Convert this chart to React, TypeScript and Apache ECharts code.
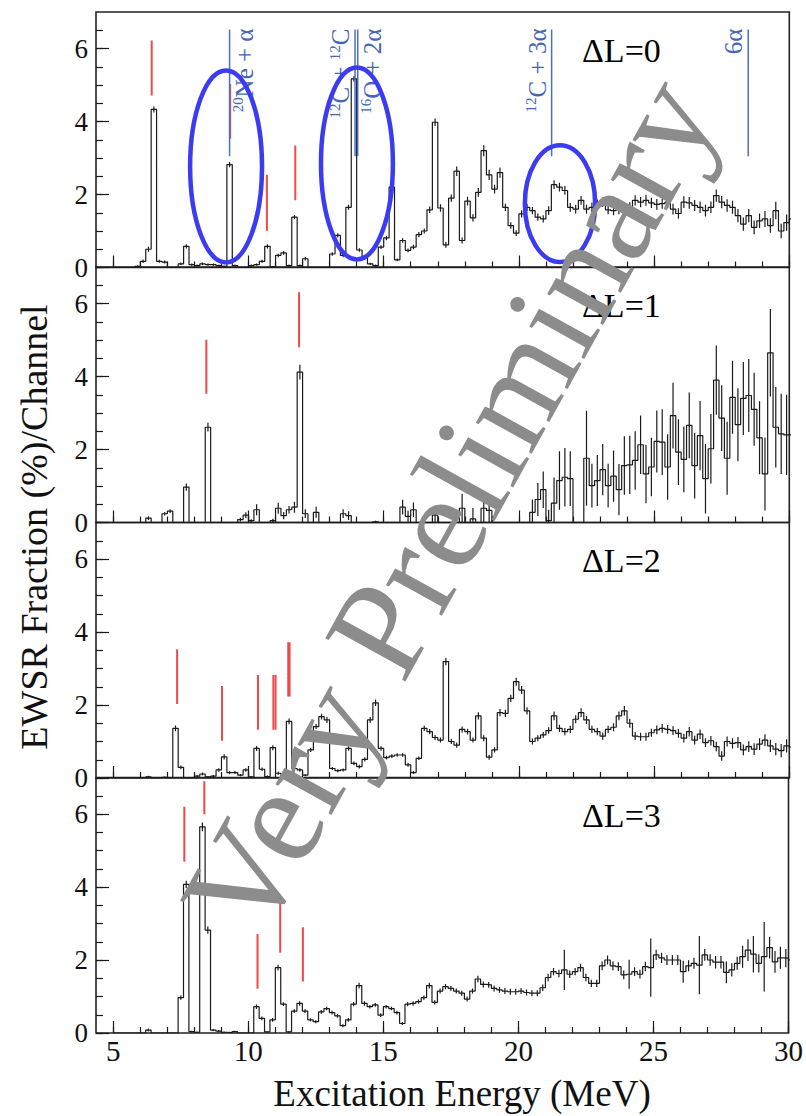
import React, { useEffect, useRef } from 'react';
import * as echarts from 'echarts';

// ---------- data ----------
const BIN_LOW_EDGE = 5.0; // lower edge of first channel (MeV)
const BIN_WIDTH = 0.2; // channel width (MeV)

const dl0Values = [
  0, 0, 0, 0, 0.03, 0.17, 0.5, 4.33, 0.17, 0.15,
  0, 0, 0.1, 0.58, 0.08, 0.05, 0.1, 0.08, 0.08, 0.05,
  0.03, 2.82, 0.05, 0, 0, 0.05, 0.08, 0.17, 0.58, 0.02,
  0.33, 0.4, 0.05, 1.38, 0.05, 0.24, 0, 0, 0, 0,
  0.37, 0.88, 0.33, 1.65, 5.17, 0.48, 0.26, 0.1, 0.05, 0.56,
  0.81, 2.2, 0.21, 0.74, 0.47, 0.56, 0.9, 1.0, 1.58, 3.98,
  1.63, 0.62, 1.9, 2.64, 0.74, 1.82, 1.36, 2.06, 3.2, 2.54,
  2.15, 2.6, 1.65, 1.15, 0.94, 1.47, 1.65, 1.56, 1.38, 1.33,
  1.56, 2.27, 2.2, 2.11, 1.65, 1.6, 1.84, 1.6, 1.65, 1.74,
  1.79, 1.58, 1.56, 1.6, 1.51, 1.65, 1.84, 1.79, 1.84, 1.77,
  1.73, 1.75, 1.79, 1.6, 1.48, 1.79, 1.77, 1.7, 1.65, 1.56,
  1.65, 1.97, 1.79, 1.7, 1.65, 1.42, 1.19, 1.42, 1.1, 1.28,
  1.33, 1.15, 1.56, 1.0, 1.23, 1.33,
];
const dl0Errors = [
  0, 0, 0, 0, 0.03, 0.05, 0.07, 0.08, 0.04, 0.04,
  0, 0, 0.04, 0.06, 0.03, 0.03, 0.04, 0.03, 0.03, 0.03,
  0.02, 0.07, 0.03, 0, 0, 0.03, 0.03, 0.04, 0.06, 0.02,
  0.05, 0.05, 0.03, 0.06, 0.03, 0.05, 0, 0, 0, 0,
  0.05, 0.06, 0.05, 0.07, 0.08, 0.05, 0.04, 0.03, 0.03, 0.05,
  0.06, 0.08, 0.04, 0.06, 0.05, 0.06, 0.07, 0.07, 0.09, 0.1,
  0.1, 0.08, 0.1, 0.13, 0.08, 0.12, 0.1, 0.12, 0.15, 0.14,
  0.12, 0.14, 0.1, 0.09, 0.08, 0.1, 0.1, 0.1, 0.1, 0.1,
  0.12, 0.12, 0.12, 0.12, 0.12, 0.12, 0.12, 0.12, 0.13, 0.12,
  0.13, 0.12, 0.13, 0.14, 0.13, 0.14, 0.14, 0.14, 0.15, 0.14,
  0.15, 0.14, 0.15, 0.15, 0.14, 0.16, 0.16, 0.15, 0.16, 0.16,
  0.16, 0.17, 0.17, 0.17, 0.18, 0.18, 0.18, 0.18, 0.19, 0.2,
  0.22, 0.2, 0.24, 0.2, 0.22, 0.25,
];

const dl1Values = [
  0, 0, 0, 0, 0, 0, 0.12, 0, 0, 0.24,
  0.31, 0, 0, 0.97, 0, 0, 0, 2.61, 0, 0,
  0, 0, 0, 0.08, 0.2, 0.05, 0.35, 0, 0, 0.05,
  0.39, 0.19, 0.35, 0.42, 4.12, 0.24, 0, 0.28, 0, 0,
  0, 0, 0.24, 0.19, 0, 0, 0, 0, 0.02, 0,
  0, 0, 0, 0.42, 0.17, 0.35, 0, 0, 0, 0.2,
  0, 0, 0, 0, 0.39, 0, 0.1, 0, 0.39, 0.33,
  0, 0, 0, 0, 0, 0, 0, 0.28, 0.63, 0.9,
  0.05, 0.53, 1.15, 1.24, 1.2, 0, 0, 1.76, 1.01, 1.15,
  1.45, 1.01, 1.27, 0.9, 1.56, 1.58, 1.7, 2.13, 1.33, 1.52,
  2.22, 2.2, 1.52, 2.93, 1.93, 1.73, 2.66, 1.56, 2.38, 1.2,
  2.02, 3.9, 2.86, 1.76, 3.43, 2.68, 3.4, 3.48, 3.1, 2.32,
  1.33, 4.65, 2.61, 2.43, 2.4, 2.4,
];
const dl1Errors = [
  0, 0, 0, 0, 0, 0, 0.05, 0, 0, 0.05,
  0.05, 0, 0, 0.1, 0, 0, 0, 0.12, 0, 0,
  0, 0, 0, 0.05, 0.08, 0.04, 0.15, 0, 0, 0.05,
  0.15, 0.1, 0.1, 0.15, 0.2, 0.12, 0, 0.15, 0, 0,
  0, 0, 0.12, 0.12, 0, 0, 0, 0, 0.03, 0,
  0, 0, 0, 0.2, 0.15, 0.2, 0, 0, 0, 0.2,
  0, 0, 0, 0, 0.4, 0, 0.3, 0, 0.45, 0.45,
  0, 0, 0, 0, 0, 0, 0, 0.35, 0.45, 0.5,
  0.3, 0.7, 0.8, 0.8, 0.75, 0, 0, 1.3, 0.6, 0.7,
  0.7, 0.6, 0.7, 0.7, 0.8, 0.8, 0.8, 0.8, 0.8, 0.8,
  0.85, 0.9, 0.9, 0.9, 0.9, 0.9, 0.9, 0.9, 0.95, 0.95,
  0.95, 0.95, 0.9, 1.0, 1.0, 1.0, 1.0, 1.0, 1.0, 1.0,
  1.0, 1.2, 1.1, 1.1, 1.1, 1.1,
];

const dl2Values = [
  0, 0, 0, 0, 0, 0, 0.03, 0, 0, 0.02,
  0, 1.36, 0.29, 0, 0, 0.05, 0.11, 0.03, 0.05, 0.22,
  0.58, 0.15, 0.15, 0.08, 0.22, 0.03, 0.81, 0.24, 0.04, 0.83,
  0.13, 0.03, 1.55, 0.26, 0.22, 0.08, 0.77, 1.41, 1.68, 1.59,
  0.26, 0.2, 0.22, 0.81, 0.4, 0.31, 0.51, 1.59, 2.06, 0.81,
  0.56, 0.6, 0.63, 0.63, 0.36, 0.15, 0.54, 1.36, 1.27, 1.11,
  1.04, 3.19, 1.0, 0.9, 1.33, 1.27, 1.04, 1.7, 1.09, 0.57,
  0.77, 1.79, 1.77, 2.18, 2.64, 2.41, 1.84, 1.0, 1.09, 1.18,
  1.3, 1.7, 1.36, 1.27, 1.33, 1.61, 1.79, 1.59, 1.33, 1.27,
  1.15, 1.33, 1.39, 1.7, 1.84, 1.5, 1.15, 1.13, 1.13, 1.24,
  1.32, 1.36, 1.33, 1.3, 1.22, 1.09, 1.27, 1.04, 1.2, 0.97,
  1.02, 0.86, 0.6, 1.0, 0.95, 0.97, 0.77, 0.86, 0.79, 0.93,
  1.04, 0.88, 0.79, 0.75, 0.88, 0.85,
];
const dl2Errors = [
  0, 0, 0, 0, 0, 0, 0.03, 0, 0, 0.02,
  0, 0.08, 0.05, 0, 0, 0.03, 0.04, 0.02, 0.03, 0.05,
  0.07, 0.04, 0.04, 0.03, 0.05, 0.02, 0.07, 0.05, 0.03, 0.07,
  0.04, 0.02, 0.08, 0.05, 0.05, 0.03, 0.06, 0.07, 0.08, 0.08,
  0.04, 0.04, 0.04, 0.06, 0.05, 0.05, 0.06, 0.08, 0.09, 0.06,
  0.05, 0.05, 0.05, 0.05, 0.05, 0.04, 0.05, 0.07, 0.07, 0.07,
  0.07, 0.1, 0.07, 0.07, 0.08, 0.08, 0.07, 0.1, 0.08, 0.07,
  0.07, 0.1, 0.1, 0.1, 0.11, 0.11, 0.1, 0.08, 0.08, 0.08,
  0.09, 0.12, 0.1, 0.1, 0.1, 0.11, 0.12, 0.11, 0.1, 0.1,
  0.1, 0.1, 0.11, 0.12, 0.13, 0.12, 0.11, 0.11, 0.11, 0.11,
  0.12, 0.12, 0.12, 0.12, 0.12, 0.12, 0.13, 0.12, 0.13, 0.12,
  0.13, 0.13, 0.13, 0.14, 0.14, 0.15, 0.15, 0.15, 0.16, 0.16,
  0.16, 0.17, 0.17, 0.18, 0.18, 0.18,
];

const dl3Values = [
  0, 0, 0, 0, 0, 0, 0.08, 0, 0, 0,
  0, 0, 0.97, 4.07, 0.04, 0.02, 5.65, 2.82, 0.08, 0.05,
  0.02, 0.01, 0.04, 0, 0, 0, 0.72, 0.4, 0.03, 0.36,
  1.79, 0.79, 0.03, 0.6, 0.81, 0.6, 0.36, 0.31, 0.58, 0.67,
  0.56, 0.47, 0.2, 0.36, 0.79, 1.3, 0.81, 0.72, 0.77, 0.49,
  0.72, 0.67, 0.56, 0.26, 0.79, 0.81, 0.86, 0.97, 1.3, 0.84,
  1.15, 1.27, 1.22, 1.15, 1.09, 0.93, 1.15, 1.48, 1.33, 1.32,
  1.22, 1.18, 1.15, 1.13, 1.13, 1.15, 1.11, 1.09, 1.09, 1.24,
  1.52, 1.68, 1.63, 1.73, 1.61, 1.68, 1.79, 1.52, 1.36, 1.36,
  1.84, 2.0, 1.84, 1.82, 1.59, 1.61, 1.68, 1.61, 1.82, 1.79,
  2.14, 2.06, 2.0, 2.0, 2.0, 1.68, 1.84, 1.91, 1.86, 2.14,
  2.0, 1.94, 1.94, 1.66, 1.73, 1.91, 2.09, 2.27, 2.16, 1.91,
  2.09, 2.34, 1.95, 2.06, 2.05, 2.0,
];
const dl3Errors = [
  0, 0, 0, 0, 0, 0, 0.04, 0, 0, 0,
  0, 0, 0.06, 0.1, 0.02, 0.02, 0.12, 0.1, 0.03, 0.03,
  0.02, 0.02, 0.02, 0, 0, 0, 0.06, 0.05, 0.02, 0.05,
  0.08, 0.05, 0.02, 0.05, 0.06, 0.05, 0.04, 0.04, 0.05, 0.05,
  0.05, 0.05, 0.04, 0.05, 0.06, 0.08, 0.06, 0.05, 0.05, 0.05,
  0.05, 0.05, 0.05, 0.04, 0.06, 0.06, 0.06, 0.06, 0.08, 0.06,
  0.07, 0.07, 0.07, 0.07, 0.07, 0.07, 0.07, 0.09, 0.08, 0.08,
  0.08, 0.08, 0.08, 0.08, 0.08, 0.08, 0.08, 0.08, 0.08, 0.09,
  0.1, 0.1, 0.1, 0.55, 0.1, 0.1, 0.11, 0.1, 0.1, 0.1,
  0.12, 0.12, 0.12, 0.12, 0.12, 0.4, 0.12, 0.12, 0.13, 0.8,
  0.14, 0.14, 0.14, 0.14, 0.14, 0.3, 0.15, 0.15, 0.8, 0.16,
  0.16, 0.17, 0.17, 0.3, 0.18, 0.18, 0.3, 0.3, 0.5, 0.25,
  0.95, 0.3, 0.3, 0.3, 0.25, 0.25,
];

const panelLabels = ['ΔL=0', 'ΔL=1', 'ΔL=2', 'ΔL=3'];

// red state markers: [energy (MeV), lower value, upper value]
const dl0Markers = [[6.42, 4.71, 6.22], [9.32, 3.53, 5.03], [10.68, 1.01, 2.54], [11.73, 1.84, 3.34]];
const dl1Markers = [[8.44, 3.53, 5.01], [11.87, 4.8, 6.31]];
const dl2Markers = [
  [7.36, 2.03, 3.53], [9.02, 1.02, 2.52], [10.35, 1.32, 2.82], [10.92, 1.32, 2.82],
  [11.0, 1.32, 2.82], [11.47, 2.23, 3.72], [11.52, 2.23, 3.72],
];
const dl3Markers = [[7.63, 4.69, 6.2], [8.37, 5.99, 6.9], [10.34, 1.21, 2.71], [11.18, 2.2, 3.71], [12.02, 1.41, 2.9]];

// decay thresholds (MeV) with labels
const thresholdEnergies = [9.3, 13.94, 14.04, 21.21, 28.48];
const thresholdLabels = ['{sup|20}Ne + α', '{sup|12}C + {sup|12}C', '{sup|16}O + 2α', '{sup|12}C + 3α', '6α'];
const thresholdSides = ['right', 'left', 'right', 'left', 'left'];
const THRESHOLD_LOW = 3.05;
const THRESHOLD_HIGH = 6.52;

// highlighted regions: [centre MeV, centre value, half-width MeV, half-height value]
const highlightEllipses = [[9.17, 2.77, 1.33, 2.63], [14.01, 2.85, 1.33, 2.63], [21.52, 1.75, 1.3, 1.6]];

const xMinorTicks = [5, 6, 7, 8, 9, 10, 11, 12, 13, 14, 15, 16, 17, 18, 19, 20, 21, 22, 23, 24, 25, 26, 27, 28, 29, 30];
const xMajorTicks = [5, 10, 15, 20, 25, 30];
const yMinorTicks = [0, 0.5, 1, 1.5, 2, 2.5, 3, 3.5, 4, 4.5, 5, 5.5, 6, 6.5];
const yMajorTicks = [0, 2, 4, 6];

const X_MIN = 4.36;
const X_MAX = 30;
const Y_MIN = 0;
const Y_MAX = 7;

// ---------- layout / style ----------
const FONT = 'Liberation Serif';
const GRID_TOPS = [12, 267, 522.5, 777.5];
const GRID_HEIGHT = 255.5;
const GRID_LEFT = 96;
const GRID_RIGHT = 16.7;
const INK = '#1a1a1a';
const RED = '#ee4a4a';
const BLUE_LINE = '#4a6fc4';
const BLUE_TEXT = '#4565b5';
const ELLIPSE_BLUE = '#3b3bf2';

const panels = [
  { values: dl0Values, errors: dl0Errors, markers: dl0Markers },
  { values: dl1Values, errors: dl1Errors, markers: dl1Markers },
  { values: dl2Values, errors: dl2Errors, markers: dl2Markers },
  { values: dl3Values, errors: dl3Errors, markers: dl3Markers },
];

function histPoints(values: number[]) {
  const pts: number[][] = values.map((v, k) => [BIN_LOW_EDGE + k * BIN_WIDTH, v]);
  pts.push([BIN_LOW_EDGE + values.length * BIN_WIDTH, values[values.length - 1]]);
  return pts;
}

function errPoints(values: number[], errors: number[]) {
  const pts: number[][] = [];
  values.forEach((v, k) => {
    if (errors[k] > 0) pts.push([BIN_LOW_EDGE + (k + 0.5) * BIN_WIDTH, v, errors[k]]);
  });
  return pts;
}

const renderErr = (params: any, api: any) => {
  const x = api.value(0);
  const y = api.value(1);
  const e = api.value(2);
  const a = api.coord([x, y - e]);
  const b = api.coord([x, y + e]);
  return {
    type: 'line',
    shape: { x1: a[0], y1: a[1], x2: b[0], y2: b[1] },
    style: { stroke: INK, lineWidth: 1.2 },
  };
};

const renderMarker = (params: any, api: any) => {
  const x = api.value(0);
  const a = api.coord([x, api.value(1)]);
  const b = api.coord([x, api.value(2)]);
  return {
    type: 'line',
    shape: { x1: a[0], y1: a[1], x2: b[0], y2: b[1] },
    style: { stroke: RED, lineWidth: 2 },
  };
};

const renderThreshold = (params: any, api: any) => {
  const idx = params.dataIndex;
  const e = api.value(0);
  const top = api.coord([e, THRESHOLD_HIGH]);
  const bot = api.coord([e, THRESHOLD_LOW]);
  const right = thresholdSides[idx] === 'right';
  return {
    type: 'group',
    children: [
      {
        type: 'line',
        shape: { x1: top[0], y1: top[1], x2: bot[0], y2: bot[1] },
        style: { stroke: BLUE_LINE, lineWidth: 1.5 },
      },
      {
        type: 'text',
        x: top[0] + (right ? 1 : -1),
        y: top[1] - 1,
        rotation: Math.PI / 2,
        style: {
          text: thresholdLabels[idx],
          fill: BLUE_TEXT,
          fontSize: 25,
          fontFamily: FONT,
          lineHeight: 27,
          align: 'right',
          verticalAlign: right ? 'top' : 'bottom',
          rich: {
            sup: { fontSize: 15, fontFamily: FONT, fill: BLUE_TEXT, verticalAlign: 'top' },
          },
        },
      },
    ],
  };
};

const renderEllipse = (params: any, api: any) => {
  const c = api.coord([api.value(0), api.value(1)]);
  const s = api.size([api.value(2), api.value(3)]);
  return {
    type: 'ellipse',
    shape: { cx: c[0], cy: c[1], rx: s[0], ry: s[1] },
    style: { fill: 'none', stroke: ELLIPSE_BLUE, lineWidth: 4.5 },
  };
};

function buildOption() {
  const grid: any[] = [];
  const xAxis: any[] = [];
  const yAxis: any[] = [];
  const series: any[] = [];
  const tickLine = { color: INK, width: 1.2 };

  panels.forEach((p, i) => {
    grid.push({
      left: GRID_LEFT,
      right: GRID_RIGHT,
      top: GRID_TOPS[i],
      height: GRID_HEIGHT,
      show: true,
      borderColor: '#222',
      borderWidth: 1.6,
      backgroundColor: 'transparent',
    });
    xAxis.push({
      gridIndex: i, type: 'value', min: X_MIN, max: X_MAX, position: 'bottom',
      axisLine: { show: false }, splitLine: { show: false },
      axisTick: { show: true, inside: true, length: 6, customValues: xMinorTicks, lineStyle: tickLine },
      axisLabel: { show: false },
    });
    xAxis.push({
      gridIndex: i, type: 'value', min: X_MIN, max: X_MAX, position: 'bottom',
      axisLine: { show: false }, splitLine: { show: false },
      axisTick: { show: true, inside: true, length: 12, customValues: xMajorTicks, lineStyle: tickLine },
      axisLabel: {
        show: i === 3, customValues: xMajorTicks, fontSize: 29, fontFamily: FONT, color: '#111', margin: 3,
      },
    });
    yAxis.push({
      gridIndex: i, type: 'value', min: Y_MIN, max: Y_MAX, position: 'left',
      axisLine: { show: false }, splitLine: { show: false },
      axisTick: { show: true, inside: true, length: 7, customValues: yMinorTicks, lineStyle: tickLine },
      axisLabel: { show: false },
    });
    yAxis.push({
      gridIndex: i, type: 'value', min: Y_MIN, max: Y_MAX, position: 'left',
      axisLine: { show: false }, splitLine: { show: false },
      axisTick: { show: true, inside: true, length: 13, customValues: yMajorTicks, lineStyle: tickLine },
      axisLabel: { show: true, customValues: yMajorTicks, fontSize: 27, fontFamily: FONT, color: '#111', margin: 8 },
    });

    const xi = 2 * i;
    series.push({
      type: 'line', xAxisIndex: xi, yAxisIndex: xi, data: histPoints(p.values), step: 'end',
      symbol: 'none', showSymbol: false, silent: true, clip: true,
      lineStyle: { color: INK, width: 1.2 }, z: 3,
    });
    series.push({
      type: 'custom', xAxisIndex: xi, yAxisIndex: xi, data: errPoints(p.values, p.errors),
      renderItem: renderErr, encode: { x: 0, y: 1 }, clip: true, silent: true, z: 3,
    });
    series.push({
      type: 'custom', xAxisIndex: xi, yAxisIndex: xi, data: p.markers,
      renderItem: renderMarker, encode: { x: 0, y: 1 }, clip: true, silent: true, z: 4,
    });
    if (i === 0) {
      series.push({
        type: 'custom', xAxisIndex: xi, yAxisIndex: xi,
        data: thresholdEnergies.map((e) => [e, THRESHOLD_LOW]),
        renderItem: renderThreshold, encode: { x: 0, y: 1 }, clip: false, silent: true, z: 5,
      });
      series.push({
        type: 'custom', xAxisIndex: xi, yAxisIndex: xi, data: highlightEllipses,
        renderItem: renderEllipse, encode: { x: 0, y: 1 }, clip: false, silent: true, z: 6,
      });
    }
  });

  const graphic: any[] = panelLabels.map((t, i) => ({
    type: 'text',
    x: 582,
    y: GRID_TOPS[i] + 38,
    z: 50,
    style: { text: t, fontSize: 34, fontFamily: FONT, fill: '#000', verticalAlign: 'middle' },
  }));
  graphic.push({
    type: 'text', x: 462, y: 1093, z: 50,
    style: { text: 'Excitation Energy (MeV)', fontSize: 37, fontFamily: FONT, fill: '#111', align: 'center', verticalAlign: 'middle' },
  });
  graphic.push({
    type: 'text', x: 34, y: 527, rotation: Math.PI / 2, z: 50,
    style: { text: 'EWSR Fraction (%)/Channel', fontSize: 38, fontFamily: FONT, fill: '#111', align: 'center', verticalAlign: 'middle' },
  });
  graphic.push({
    type: 'text', x: 449, y: 506, rotation: (61 * Math.PI) / 180, z: 100,
    style: { text: 'Very Preliminary', fontSize: 139, fontFamily: FONT, fill: '#8c8c8c', align: 'center', verticalAlign: 'middle' },
  });

  return {
    animation: false,
    backgroundColor: '#ffffff',
    textStyle: { fontFamily: FONT },
    grid,
    xAxis,
    yAxis,
    series,
    graphic,
  };
}

export default function App() {
  const ref = useRef<HTMLDivElement>(null);
  useEffect(() => {
    if (!ref.current) return;
    const chart = echarts.init(ref.current, null, { renderer: 'svg' });
    chart.setOption(buildOption() as any);
    return () => chart.dispose();
  }, []);
  return (
    <div
      ref={ref}
      style={{ position: 'absolute', left: 0, top: 0, width: 806, height: 1116, background: '#fff' }}
    />
  );
}
